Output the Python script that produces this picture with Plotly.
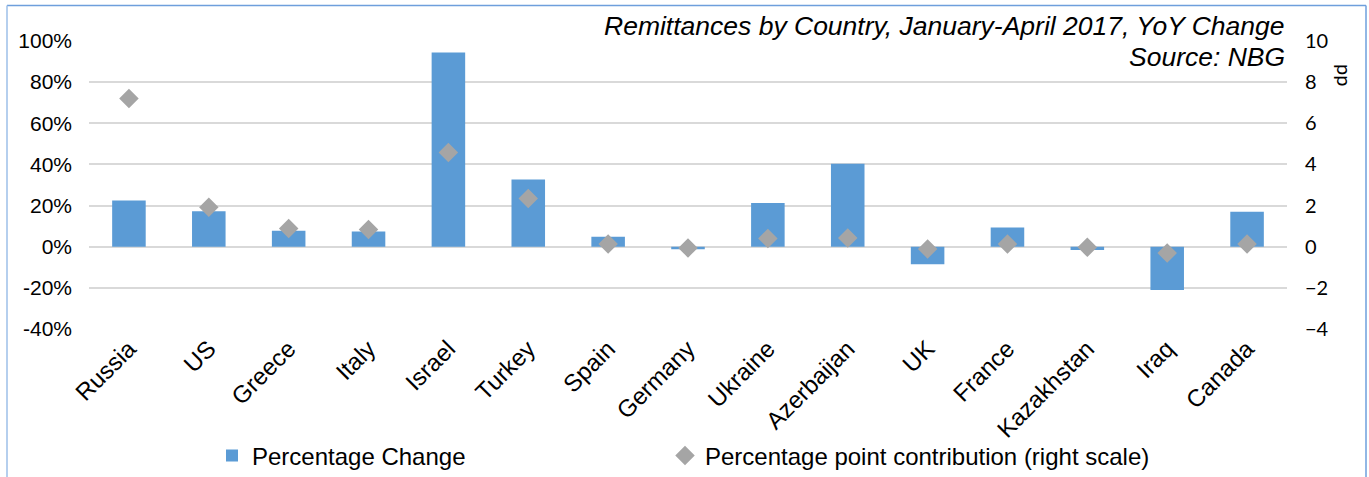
import plotly.graph_objects as go

countries = ["Russia", "US", "Greece", "Italy", "Israel", "Turkey", "Spain", "Germany",
             "Ukraine", "Azerbaijan", "UK", "France", "Kazakhstan", "Iraq", "Canada"]
pct_change = [22.5, 17.3, 7.8, 7.4, 94.4, 32.7, 4.9, -1.2, 21.2, 40.3, -8.5, 9.3, -1.6, -21.0, 17.0]
pp_contribution = [7.2, 1.92, 0.89, 0.84, 4.58, 2.34, 0.13, -0.06, 0.40, 0.42, -0.11, 0.13, -0.03, -0.31, 0.13]

left_ticks = [-40, -20, 0, 20, 40, 60, 80, 100]
left_labels = [f"{v}%" for v in left_ticks]
right_ticks = [-4, -2, 0, 2, 4, 6, 8, 10]

BAR = "#5B9BD5"
DIAMOND = "#A5A5A5"
GRID = "#D9D9D9"
FONT = "Liberation Sans, Arial, sans-serif"
NUM_FONT = "Lato, Open Sans, sans-serif"

fig = go.Figure()
fig.add_trace(go.Bar(
    x=countries, y=pct_change, name="Percentage Change",
    marker=dict(color=BAR, line=dict(width=0)), width=0.42,
    legend="legend",
))
fig.add_trace(go.Scatter(
    x=countries, y=pp_contribution, name="Percentage point contribution (right scale)",
    mode="markers", yaxis="y2",
    marker=dict(symbol="diamond", color=DIAMOND, size=15),
    legend="legend2",
))

W, H = 1369, 477
L, R, T, B = 89, 82, 41, 148

fig.update_layout(
    width=W, height=H,
    margin=dict(l=L, r=R, t=T, b=B, autoexpand=False),
    paper_bgcolor="white", plot_bgcolor="white",
    font=dict(family=FONT, color="#000000", size=20),
    xaxis=dict(
        range=[-0.5, len(countries) - 0.5],
        tickangle=-45, tickfont=dict(size=24, family=FONT),
        showgrid=False, showline=False, ticks="", automargin=False,
    ),
    yaxis=dict(
        range=[-40, 100], tickvals=left_ticks, ticktext=left_labels,
        tickfont=dict(size=21, family=FONT),
        showgrid=True, gridcolor=GRID, gridwidth=1.5,
        zeroline=False, showline=False, ticks="", ticklabelstandoff=16, automargin=False,
    ),
    yaxis2=dict(
        range=[-4, 10], tickvals=right_ticks, overlaying="y", side="right",
        tickfont=dict(size=20, family=NUM_FONT),
        showgrid=False, zeroline=False, showline=False, ticks="", ticklabelstandoff=17,
        automargin=False,
    ),
    legend=dict(
        orientation="h", xref="container", yref="container",
        x=212 / W, y=1 - 456 / H, xanchor="left", yanchor="middle",
        font=dict(size=24, family=FONT), itemwidth=30, bgcolor="rgba(0,0,0,0)",
    ),
    legend2=dict(
        orientation="h", xref="container", yref="container",
        x=665 / W, y=1 - 456 / H, xanchor="left", yanchor="middle",
        font=dict(size=24, family=FONT), itemwidth=30, bgcolor="rgba(0,0,0,0)",
    ),
    showlegend=True,
)

px = lambda v: (v - L) / (W - L - R)
py = lambda v: (H - B - v) / (H - T - B)

# chart title and source, right aligned in the top corner of the plot
fig.add_annotation(
    text="Remittances by Country, January-April 2017, YoY Change",
    xref="paper", yref="paper", x=1.0, y=py(26),
    xanchor="right", yanchor="middle", showarrow=False,
    font=dict(size=26.5, family=FONT, style="italic"),
)
fig.add_annotation(
    text="Source: NBG",
    xref="paper", yref="paper", x=1.0, y=py(57),
    xanchor="right", yanchor="middle", showarrow=False,
    font=dict(size=26.5, family=FONT, style="italic"),
)
# right axis unit
fig.add_annotation(
    text="pp", xref="paper", yref="paper",
    x=px(1345), y=py(75),
    xanchor="center", yanchor="middle", showarrow=False, textangle=90,
    font=dict(size=20, family=NUM_FONT),
)

# outer frame of the chart area
fig.add_shape(type="line", xref="paper", yref="paper", x0=px(7), x1=px(1366), y0=py(5.5), y1=py(5.5),
              line=dict(color="#6E9FDC", width=1.5))
fig.add_shape(type="line", xref="paper", yref="paper", x0=px(7), x1=px(7), y0=py(5.5), y1=py(480),
              line=dict(color="#9CBFE9", width=1.5))
fig.add_shape(type="line", xref="paper", yref="paper", x0=px(1366), x1=px(1366), y0=py(5.5), y1=py(480),
              line=dict(color="#6E9FDC", width=1.5))

fig.write_html("out.html")
